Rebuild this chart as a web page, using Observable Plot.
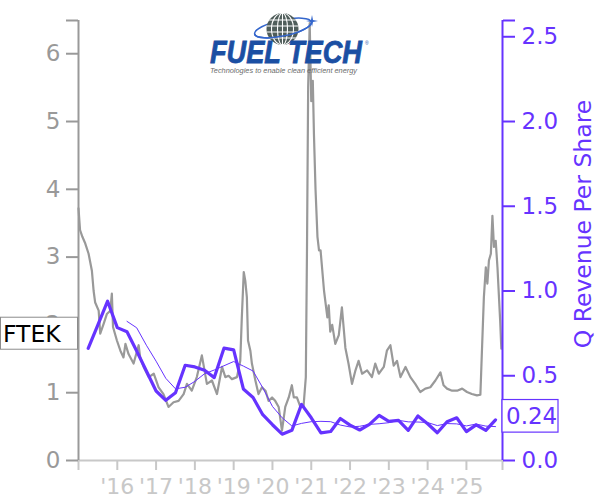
<!DOCTYPE html>
<html>
<head>
<meta charset="utf-8">
<script src="https://cdn.jsdelivr.net/npm/d3@7"></script>
<script src="https://cdn.jsdelivr.net/npm/@observablehq/plot@0.6"></script>
<style>
  html, body { margin: 0; padding: 0; background: #fff; }
  #chart { width: 600px; height: 500px; }
</style>
</head>
<body>
<div id="chart"></div>
<script>
// ---------- data ----------
const ticker = "FTEK";
const revenueLabel = "Q Revenue Per Share";

// closing price (decimal year, USD)
const priceDates = [
  2015.00, 2015.04, 2015.10, 2015.175, 2015.26, 2015.345, 2015.39, 2015.43, 2015.52, 2015.56,
  2015.65, 2015.73, 2015.82, 2015.86, 2015.89, 2015.99, 2016.08, 2016.16, 2016.21, 2016.29,
  2016.42, 2016.55, 2016.59, 2016.68, 2016.81, 2016.94, 2017.065, 2017.19, 2017.32, 2017.45,
  2017.58, 2017.71, 2017.795, 2017.92, 2018.05, 2018.18, 2018.31, 2018.44, 2018.57, 2018.70,
  2018.785, 2018.87, 2018.955, 2019.085, 2019.17, 2019.21, 2019.26, 2019.30, 2019.34, 2019.37,
  2019.43, 2019.47, 2019.56, 2019.64, 2019.73, 2019.82, 2019.90, 2019.99, 2020.07, 2020.16,
  2020.245, 2020.33, 2020.42, 2020.50, 2020.55, 2020.63, 2020.72, 2020.80, 2020.86, 2020.89,
  2020.92, 2020.96, 2021.00, 2021.04, 2021.07, 2021.11, 2021.16, 2021.20, 2021.24, 2021.33,
  2021.415, 2021.45, 2021.49, 2021.54, 2021.62, 2021.71, 2021.79, 2021.88, 2021.96, 2022.05,
  2022.14, 2022.22, 2022.31, 2022.44, 2022.565, 2022.65, 2022.74, 2022.87, 2022.95, 2023.04,
  2023.125, 2023.21, 2023.30, 2023.43, 2023.555, 2023.68, 2023.81, 2023.94, 2024.07, 2024.20,
  2024.33, 2024.41, 2024.50, 2024.63, 2024.76, 2024.89, 2025.015, 2025.14, 2025.27, 2025.36,
  2025.40, 2025.45, 2025.50, 2025.54, 2025.58, 2025.63, 2025.67, 2025.71, 2025.755, 2025.80,
  2025.87, 2025.90
];
const priceValues = [
  3.72, 3.40, 3.30, 3.20, 3.05, 2.80, 2.50, 2.33, 2.21, 1.87,
  2.02, 2.16, 2.21, 2.46, 1.97, 1.77, 1.62, 1.52, 1.72, 1.57,
  1.43, 1.70, 1.52, 1.38, 1.23, 1.28, 1.08, 0.98, 0.79, 0.86,
  0.88, 0.98, 1.13, 1.03, 1.23, 1.55, 1.13, 1.18, 0.98, 1.38,
  1.23, 1.25, 1.20, 1.23, 1.47, 2.11, 2.78, 2.65, 2.41, 1.77,
  1.62, 1.43, 1.18, 0.98, 1.08, 1.03, 0.88, 0.93, 0.88, 0.79,
  0.44, 0.79, 0.93, 1.11, 0.93, 0.93, 0.79, 0.79, 1.23, 3.10,
  5.50, 6.45, 5.30, 5.60, 4.80, 4.00, 3.30, 3.10, 3.10, 2.50,
  2.11, 2.29, 1.90, 2.00, 1.72, 1.85, 2.26, 1.66, 1.43, 1.13,
  1.33, 1.47, 1.28, 1.33, 1.23, 1.43, 1.28, 1.38, 1.62, 1.70,
  1.40, 1.47, 1.23, 1.38, 1.23, 1.13, 1.01, 1.06, 1.08, 1.18,
  1.30, 1.11, 1.06, 1.03, 1.03, 1.06, 1.01, 0.98, 0.96, 0.97,
  1.62, 2.41, 2.85, 2.61, 2.95, 3.05, 3.61, 3.15, 3.24, 2.85,
  2.06, 1.65
];
const tickerLabelPrice = 1.87;

// quarterly revenue per share (quarter end, decimal year)
const revDates = [
  2015.25, 2015.5, 2015.75, 2016.0, 2016.25, 2016.5, 2016.75, 2017.0, 2017.25, 2017.5,
  2017.75, 2018.0, 2018.25, 2018.5, 2018.75, 2019.0, 2019.25, 2019.5, 2019.75, 2020.0,
  2020.25, 2020.5, 2020.75, 2021.0, 2021.25, 2021.5, 2021.75, 2022.0, 2022.25, 2022.5,
  2022.75, 2023.0, 2023.25, 2023.5, 2023.75, 2024.0, 2024.25, 2024.5, 2024.75, 2025.0,
  2025.25, 2025.5, 2025.75
];
const revValues = [
  0.662, 0.800, 0.940, 0.784, 0.760, 0.646, 0.528, 0.410, 0.355, 0.400,
  0.562, 0.552, 0.532, 0.489, 0.663, 0.653, 0.422, 0.372, 0.270, 0.211,
  0.155, 0.178, 0.331, 0.252, 0.163, 0.171, 0.248, 0.209, 0.180, 0.213,
  0.266, 0.231, 0.237, 0.178, 0.263, 0.217, 0.164, 0.229, 0.252, 0.170,
  0.210, 0.178, 0.240
];
// thin trailing line (4-quarter average as drawn)
const revAvgDates = revDates.slice(4);
const revAvgValues = [
  0.821, 0.783, 0.680, 0.586, 0.485, 0.423, 0.432, 0.467, 0.512, 0.534,
  0.559, 0.584, 0.557, 0.528, 0.429, 0.319, 0.252, 0.204, 0.219, 0.229,
  0.231, 0.229, 0.209, 0.198, 0.202, 0.213, 0.217, 0.223, 0.237, 0.228,
  0.227, 0.224, 0.206, 0.218, 0.216, 0.204, 0.215, 0.203, 0.200
];
const lastRevenueLabel = "0.24";

const yearTicks = [2016, 2017, 2018, 2019, 2020, 2021, 2022, 2023, 2024, 2025];
const priceTicks = [0, 1, 2, 3, 4, 5, 6];
const revTicks = [0, 0.5, 1.0, 1.5, 2.0, 2.5];

// ---------- chart ----------
const purple = "#6633ff";
const grey = "#999999";
const light = "#c8c8c8";
const k = 2.5;                 // right-axis units -> left-axis units
const xDomain = [2015.0, 2025.93];
const yMax = 6.49;

const price = priceDates.map((t, i) => ({t, v: priceValues[i]}));
const rev = revDates.map((t, i) => ({t, v: revValues[i]}));
const revAvg = revAvgDates.map((t, i) => ({t, v: revAvgValues[i]}));

const chart = Plot.plot({
  width: 600,
  height: 500,
  marginLeft: 78,
  marginRight: 98,
  marginTop: 20,
  marginBottom: 40,
  style: {fontFamily: "DejaVu Sans, sans-serif", background: "white", overflow: "visible"},
  x: {type: "linear", domain: xDomain},
  y: {domain: [0, yMax]},
  marks: [
    Plot.ruleY([0], {stroke: light, strokeWidth: 2}),
    Plot.axisX({ticks: yearTicks, tickFormat: d => "'" + String(d).slice(2), tickSize: 10, tickPadding: 8,
      fontSize: 22, color: light, strokeWidth: 2, label: null}),
    Plot.axisX({ticks: xDomain, tickFormat: () => "", tickSize: 10, color: light, strokeWidth: 2, label: null}),
    Plot.line(price, {x: "t", y: "v", stroke: grey, strokeWidth: 2.2}),
    Plot.line(rev, {x: "t", y: d => d.v * k, stroke: purple, strokeWidth: 3.2}),
    Plot.line(revAvg, {x: "t", y: d => d.v * k, stroke: purple, strokeWidth: 1}),
    Plot.ruleX([xDomain[0]], {stroke: grey, strokeWidth: 2}),
    Plot.axisY({ticks: priceTicks, tickFormat: d => String(d), tickSize: 12, tickPadding: 6, fontSize: 23,
      color: grey, strokeWidth: 2, label: null}),
    Plot.axisY({ticks: [yMax], tickFormat: () => "", tickSize: 12, color: grey, strokeWidth: 2, label: null}),
    Plot.ruleX([xDomain[1]], {stroke: purple, strokeWidth: 2}),
    Plot.axisY({anchor: "right", ticks: revTicks.map(v => v * k), tickFormat: d => (d / k).toFixed(1),
      tickSize: 12, tickPadding: 7, fontSize: 23, color: purple, strokeWidth: 2, label: null}),
    Plot.axisY({anchor: "right", ticks: [yMax], tickFormat: () => "", tickSize: 12, color: purple, strokeWidth: 2, label: null})
  ]
});
document.getElementById("chart").appendChild(chart);

const svg = d3.select(chart);
const xs = chart.scale("x"), ys = chart.scale("y");
const x0 = xs.apply(xDomain[0]), x1 = xs.apply(xDomain[1]);
const overlay = svg.append("g").attr("text-anchor", "start").attr("font-family", "DejaVu Sans, sans-serif");

// right axis title
const yTop = ys.apply(yMax), yBot = ys.apply(0);
overlay.append("text")
  .attr("transform", `translate(${x1 + 89},${(yTop + yBot) / 2 - 16}) rotate(-90)`)
  .attr("text-anchor", "middle")
  .attr("font-size", 23.5)
  .attr("fill", purple)
  .text(revenueLabel);

// ticker label box on the left
const ty = ys.apply(tickerLabelPrice);
overlay.append("rect").attr("x", 0.5).attr("y", ty - 16).attr("width", x0 - 1).attr("height", 32)
  .attr("fill", "white").attr("stroke", "#8c8c8c").attr("stroke-width", 1);
overlay.append("text").attr("x", 3).attr("y", ty).attr("dy", "0.36em").attr("text-anchor", "start")
  .attr("font-size", 23.5).attr("fill", "black").text(ticker);

// last revenue label box on the right
const ry = ys.apply(revValues[revValues.length - 1] * k) - 3.5;
overlay.append("rect").attr("x", x1).attr("y", ry - 16.3).attr("width", 56).attr("height", 32.6)
  .attr("fill", "white").attr("stroke", purple).attr("stroke-width", 1.2);
overlay.append("text").attr("x", x1 + 4).attr("y", ry).attr("dy", "0.36em").attr("text-anchor", "start")
  .attr("font-size", 23).attr("fill", purple).text(lastRevenueLabel);

// ---------- logo ----------
const cx = (x0 + x1) / 2;
const lg = overlay.append("g").attr("transform", `translate(${cx - 290},0)`);
const blue = "#1b4fa3";
const orbit = "#3466cc";
lg.append("ellipse").attr("cx", 283).attr("cy", 28).attr("rx", 29).attr("ry", 8)
  .attr("transform", "rotate(-12 283 28)").attr("fill", "none").attr("stroke", orbit).attr("stroke-width", 1.5);
lg.append("clipPath").attr("id", "globeClip").append("circle").attr("cx", 282.5).attr("cy", 29).attr("r", 16);
lg.append("circle").attr("cx", 282.5).attr("cy", 29).attr("r", 16).attr("fill", "#4f5d5a");
const gl = lg.append("g").attr("clip-path", "url(#globeClip)").attr("stroke", "white").attr("stroke-width", 1.1).attr("fill", "none");
[-9, -3, 3, 9].forEach(dy => gl.append("line").attr("x1", 264).attr("x2", 301).attr("y1", 29 + dy).attr("y2", 29 + dy));
[5, 11].forEach(rx => gl.append("ellipse").attr("cx", 282.5).attr("cy", 29).attr("rx", rx).attr("ry", 16));
gl.append("line").attr("x1", 282.5).attr("x2", 282.5).attr("y1", 12).attr("y2", 46);
lg.append("path").attr("d", "M 254.6 34 A 29 8 -12 0 0 311.4 22")
  .attr("fill", "none").attr("stroke", orbit).attr("stroke-width", 1.5);
lg.append("path").attr("d", "M312,15 L313,20 L318,21 L313,22 L312,27 L311,22 L306,21 L311,20 Z").attr("fill", orbit);
lg.append("text").attr("x", 210).attr("y", 63).attr("text-anchor", "start")
  .attr("font-family", "Liberation Sans, Arial, sans-serif").attr("font-weight", "900").attr("font-style", "italic")
  .attr("font-size", 31).attr("textLength", 152).attr("lengthAdjust", "spacingAndGlyphs")
  .attr("fill", blue).attr("stroke", blue).attr("stroke-width", 0.8).text("FUEL TECH");
lg.append("text").attr("x", 365).attr("y", 45).attr("text-anchor", "start")
  .attr("font-family", "Liberation Sans, Arial, sans-serif")
  .attr("font-size", 5).attr("fill", blue).text("®");
lg.append("text").attr("x", 210).attr("y", 72.5).attr("text-anchor", "start")
  .attr("font-family", "Liberation Sans, Arial, sans-serif").attr("font-style", "italic")
  .attr("font-size", 7.6).attr("textLength", 147).attr("lengthAdjust", "spacingAndGlyphs")
  .attr("fill", "#6b6b6b").text("Technologies to enable clean efficient energy");
</script>
</body>
</html>
